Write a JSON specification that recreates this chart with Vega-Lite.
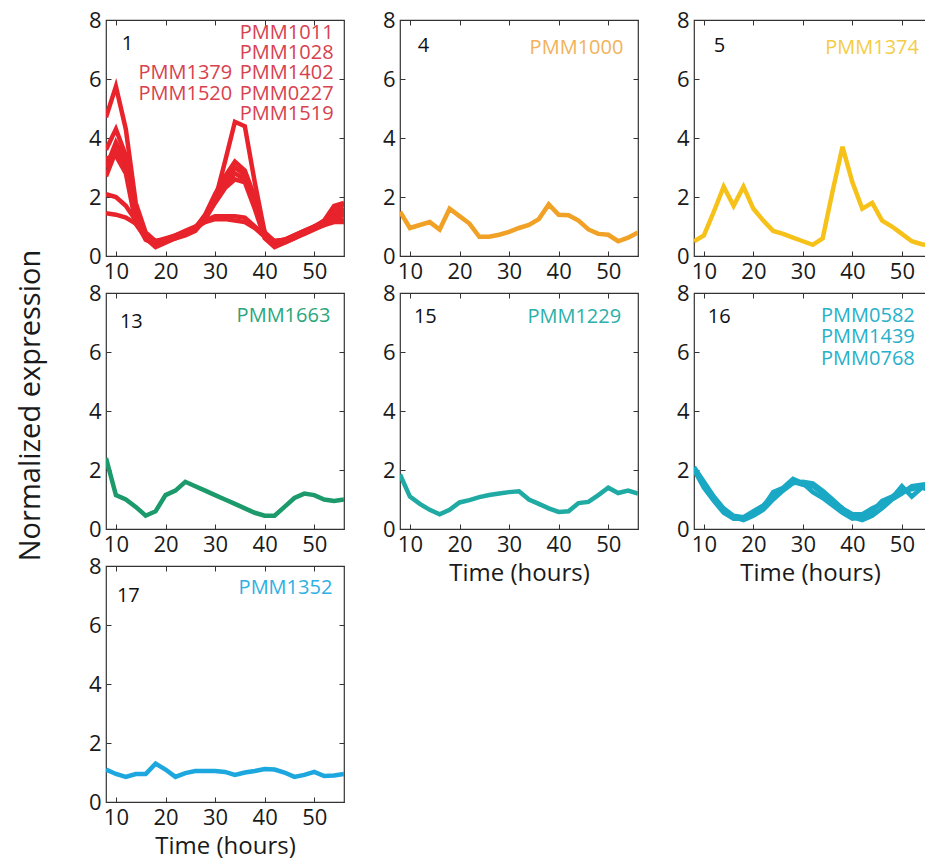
{
  "$schema": "https://vega.github.io/schema/vega-lite/v6.json",
  "background": "white",
  "padding": {"left": 15, "top": 8, "right": 0, "bottom": 0},
  "columns": 3,
  "spacing": {"row": 37, "column": 56},
  "bounds": "flush",
  "datasets": {
    "expr": [
      {"p":1,"g":"a","t":8,"v":4.7},{"p":1,"g":"a","t":10,"v":5.75},{"p":1,"g":"a","t":12,"v":4.3},{"p":1,"g":"a","t":14,"v":1.8},{"p":1,"g":"a","t":16,"v":0.8},{"p":1,"g":"a","t":18,"v":0.5},{"p":1,"g":"a","t":20,"v":0.55},{"p":1,"g":"a","t":22,"v":0.65},{"p":1,"g":"a","t":24,"v":0.75},{"p":1,"g":"a","t":26,"v":0.95},{"p":1,"g":"a","t":28,"v":1.3},{"p":1,"g":"a","t":30,"v":1.9},{"p":1,"g":"a","t":32,"v":3.2},{"p":1,"g":"a","t":34,"v":4.55},{"p":1,"g":"a","t":36,"v":4.4},{"p":1,"g":"a","t":38,"v":2.5},{"p":1,"g":"a","t":40,"v":0.8},{"p":1,"g":"a","t":42,"v":0.5},{"p":1,"g":"a","t":44,"v":0.55},{"p":1,"g":"a","t":46,"v":0.65},{"p":1,"g":"a","t":48,"v":0.8},{"p":1,"g":"a","t":50,"v":0.95},{"p":1,"g":"a","t":52,"v":1.2},{"p":1,"g":"a","t":54,"v":1.7},{"p":1,"g":"a","t":56,"v":1.8},
      {"p":1,"g":"b","t":8,"v":3.6},{"p":1,"g":"b","t":10,"v":4.3},{"p":1,"g":"b","t":12,"v":3.4},{"p":1,"g":"b","t":14,"v":1.5},{"p":1,"g":"b","t":16,"v":0.7},{"p":1,"g":"b","t":18,"v":0.45},{"p":1,"g":"b","t":20,"v":0.55},{"p":1,"g":"b","t":22,"v":0.7},{"p":1,"g":"b","t":24,"v":0.8},{"p":1,"g":"b","t":26,"v":0.95},{"p":1,"g":"b","t":28,"v":1.4},{"p":1,"g":"b","t":30,"v":2.1},{"p":1,"g":"b","t":32,"v":2.7},{"p":1,"g":"b","t":34,"v":3.2},{"p":1,"g":"b","t":36,"v":2.9},{"p":1,"g":"b","t":38,"v":2.0},{"p":1,"g":"b","t":40,"v":0.8},{"p":1,"g":"b","t":42,"v":0.45},{"p":1,"g":"b","t":44,"v":0.55},{"p":1,"g":"b","t":46,"v":0.7},{"p":1,"g":"b","t":48,"v":0.85},{"p":1,"g":"b","t":50,"v":1.0},{"p":1,"g":"b","t":52,"v":1.15},{"p":1,"g":"b","t":54,"v":1.6},{"p":1,"g":"b","t":56,"v":1.75},
      {"p":1,"g":"c","t":8,"v":3.0},{"p":1,"g":"c","t":10,"v":3.85},{"p":1,"g":"c","t":12,"v":3.2},{"p":1,"g":"c","t":14,"v":1.3},{"p":1,"g":"c","t":16,"v":0.6},{"p":1,"g":"c","t":18,"v":0.35},{"p":1,"g":"c","t":20,"v":0.5},{"p":1,"g":"c","t":22,"v":0.65},{"p":1,"g":"c","t":24,"v":0.8},{"p":1,"g":"c","t":26,"v":0.95},{"p":1,"g":"c","t":28,"v":1.35},{"p":1,"g":"c","t":30,"v":2.0},{"p":1,"g":"c","t":32,"v":2.5},{"p":1,"g":"c","t":34,"v":3.0},{"p":1,"g":"c","t":36,"v":2.75},{"p":1,"g":"c","t":38,"v":1.8},{"p":1,"g":"c","t":40,"v":0.7},{"p":1,"g":"c","t":42,"v":0.4},{"p":1,"g":"c","t":44,"v":0.5},{"p":1,"g":"c","t":46,"v":0.65},{"p":1,"g":"c","t":48,"v":0.8},{"p":1,"g":"c","t":50,"v":1.0},{"p":1,"g":"c","t":52,"v":1.2},{"p":1,"g":"c","t":54,"v":1.5},{"p":1,"g":"c","t":56,"v":1.6},
      {"p":1,"g":"d","t":8,"v":2.7},{"p":1,"g":"d","t":10,"v":3.55},{"p":1,"g":"d","t":12,"v":3.0},{"p":1,"g":"d","t":14,"v":1.2},{"p":1,"g":"d","t":16,"v":0.55},{"p":1,"g":"d","t":18,"v":0.4},{"p":1,"g":"d","t":20,"v":0.5},{"p":1,"g":"d","t":22,"v":0.6},{"p":1,"g":"d","t":24,"v":0.75},{"p":1,"g":"d","t":26,"v":0.9},{"p":1,"g":"d","t":28,"v":1.3},{"p":1,"g":"d","t":30,"v":1.9},{"p":1,"g":"d","t":32,"v":2.4},{"p":1,"g":"d","t":34,"v":2.8},{"p":1,"g":"d","t":36,"v":2.6},{"p":1,"g":"d","t":38,"v":1.7},{"p":1,"g":"d","t":40,"v":0.65},{"p":1,"g":"d","t":42,"v":0.35},{"p":1,"g":"d","t":44,"v":0.45},{"p":1,"g":"d","t":46,"v":0.6},{"p":1,"g":"d","t":48,"v":0.8},{"p":1,"g":"d","t":50,"v":0.95},{"p":1,"g":"d","t":52,"v":1.1},{"p":1,"g":"d","t":54,"v":1.4},{"p":1,"g":"d","t":56,"v":1.5},
      {"p":1,"g":"e","t":8,"v":3.3},{"p":1,"g":"e","t":10,"v":3.4},{"p":1,"g":"e","t":12,"v":2.8},{"p":1,"g":"e","t":14,"v":1.1},{"p":1,"g":"e","t":16,"v":0.6},{"p":1,"g":"e","t":18,"v":0.3},{"p":1,"g":"e","t":20,"v":0.45},{"p":1,"g":"e","t":22,"v":0.6},{"p":1,"g":"e","t":24,"v":0.7},{"p":1,"g":"e","t":26,"v":0.85},{"p":1,"g":"e","t":28,"v":1.25},{"p":1,"g":"e","t":30,"v":1.8},{"p":1,"g":"e","t":32,"v":2.3},{"p":1,"g":"e","t":34,"v":2.6},{"p":1,"g":"e","t":36,"v":2.5},{"p":1,"g":"e","t":38,"v":1.6},{"p":1,"g":"e","t":40,"v":0.6},{"p":1,"g":"e","t":42,"v":0.3},{"p":1,"g":"e","t":44,"v":0.45},{"p":1,"g":"e","t":46,"v":0.6},{"p":1,"g":"e","t":48,"v":0.75},{"p":1,"g":"e","t":50,"v":0.9},{"p":1,"g":"e","t":52,"v":1.05},{"p":1,"g":"e","t":54,"v":1.3},{"p":1,"g":"e","t":56,"v":1.4},
      {"p":1,"g":"f","t":8,"v":2.1},{"p":1,"g":"f","t":10,"v":2.0},{"p":1,"g":"f","t":12,"v":1.7},{"p":1,"g":"f","t":14,"v":1.2},{"p":1,"g":"f","t":16,"v":0.7},{"p":1,"g":"f","t":18,"v":0.5},{"p":1,"g":"f","t":20,"v":0.6},{"p":1,"g":"f","t":22,"v":0.7},{"p":1,"g":"f","t":24,"v":0.85},{"p":1,"g":"f","t":26,"v":1.0},{"p":1,"g":"f","t":28,"v":1.2},{"p":1,"g":"f","t":30,"v":1.35},{"p":1,"g":"f","t":32,"v":1.35},{"p":1,"g":"f","t":34,"v":1.35},{"p":1,"g":"f","t":36,"v":1.3},{"p":1,"g":"f","t":38,"v":1.0},{"p":1,"g":"f","t":40,"v":0.7},{"p":1,"g":"f","t":42,"v":0.5},{"p":1,"g":"f","t":44,"v":0.55},{"p":1,"g":"f","t":46,"v":0.7},{"p":1,"g":"f","t":48,"v":0.85},{"p":1,"g":"f","t":50,"v":1.0},{"p":1,"g":"f","t":52,"v":1.1},{"p":1,"g":"f","t":54,"v":1.2},{"p":1,"g":"f","t":56,"v":1.25},
      {"p":1,"g":"g","t":8,"v":1.45},{"p":1,"g":"g","t":10,"v":1.4},{"p":1,"g":"g","t":12,"v":1.3},{"p":1,"g":"g","t":14,"v":1.1},{"p":1,"g":"g","t":16,"v":0.65},{"p":1,"g":"g","t":18,"v":0.5},{"p":1,"g":"g","t":20,"v":0.55},{"p":1,"g":"g","t":22,"v":0.65},{"p":1,"g":"g","t":24,"v":0.8},{"p":1,"g":"g","t":26,"v":0.95},{"p":1,"g":"g","t":28,"v":1.15},{"p":1,"g":"g","t":30,"v":1.25},{"p":1,"g":"g","t":32,"v":1.25},{"p":1,"g":"g","t":34,"v":1.2},{"p":1,"g":"g","t":36,"v":1.15},{"p":1,"g":"g","t":38,"v":0.95},{"p":1,"g":"g","t":40,"v":0.65},{"p":1,"g":"g","t":42,"v":0.5},{"p":1,"g":"g","t":44,"v":0.55},{"p":1,"g":"g","t":46,"v":0.65},{"p":1,"g":"g","t":48,"v":0.8},{"p":1,"g":"g","t":50,"v":0.95},{"p":1,"g":"g","t":52,"v":1.05},{"p":1,"g":"g","t":54,"v":1.15},{"p":1,"g":"g","t":56,"v":1.15},
      {"p":4,"g":"a","t":8,"v":1.5},{"p":4,"g":"a","t":10,"v":0.95},{"p":4,"g":"a","t":12,"v":1.05},{"p":4,"g":"a","t":14,"v":1.15},{"p":4,"g":"a","t":16,"v":0.9},{"p":4,"g":"a","t":18,"v":1.6},{"p":4,"g":"a","t":20,"v":1.35},{"p":4,"g":"a","t":22,"v":1.1},{"p":4,"g":"a","t":24,"v":0.65},{"p":4,"g":"a","t":26,"v":0.65},{"p":4,"g":"a","t":28,"v":0.72},{"p":4,"g":"a","t":30,"v":0.82},{"p":4,"g":"a","t":32,"v":0.95},{"p":4,"g":"a","t":34,"v":1.05},{"p":4,"g":"a","t":36,"v":1.25},{"p":4,"g":"a","t":38,"v":1.75},{"p":4,"g":"a","t":40,"v":1.4},{"p":4,"g":"a","t":42,"v":1.38},{"p":4,"g":"a","t":44,"v":1.2},{"p":4,"g":"a","t":46,"v":0.9},{"p":4,"g":"a","t":48,"v":0.75},{"p":4,"g":"a","t":50,"v":0.72},{"p":4,"g":"a","t":52,"v":0.5},{"p":4,"g":"a","t":54,"v":0.62},{"p":4,"g":"a","t":56,"v":0.8},
      {"p":5,"g":"a","t":8,"v":0.5},{"p":5,"g":"a","t":10,"v":0.7},{"p":5,"g":"a","t":12,"v":1.5},{"p":5,"g":"a","t":14,"v":2.35},{"p":5,"g":"a","t":16,"v":1.7},{"p":5,"g":"a","t":18,"v":2.35},{"p":5,"g":"a","t":20,"v":1.6},{"p":5,"g":"a","t":22,"v":1.2},{"p":5,"g":"a","t":24,"v":0.85},{"p":5,"g":"a","t":26,"v":0.75},{"p":5,"g":"a","t":28,"v":0.62},{"p":5,"g":"a","t":30,"v":0.5},{"p":5,"g":"a","t":32,"v":0.38},{"p":5,"g":"a","t":34,"v":0.6},{"p":5,"g":"a","t":36,"v":2.2},{"p":5,"g":"a","t":38,"v":3.7},{"p":5,"g":"a","t":40,"v":2.5},{"p":5,"g":"a","t":42,"v":1.6},{"p":5,"g":"a","t":44,"v":1.8},{"p":5,"g":"a","t":46,"v":1.2},{"p":5,"g":"a","t":48,"v":1.0},{"p":5,"g":"a","t":50,"v":0.75},{"p":5,"g":"a","t":52,"v":0.5},{"p":5,"g":"a","t":54,"v":0.4},{"p":5,"g":"a","t":56,"v":0.35},
      {"p":13,"g":"a","t":8,"v":2.4},{"p":13,"g":"a","t":10,"v":1.15},{"p":13,"g":"a","t":12,"v":1.0},{"p":13,"g":"a","t":14,"v":0.75},{"p":13,"g":"a","t":16,"v":0.45},{"p":13,"g":"a","t":18,"v":0.6},{"p":13,"g":"a","t":20,"v":1.15},{"p":13,"g":"a","t":22,"v":1.3},{"p":13,"g":"a","t":24,"v":1.6},{"p":13,"g":"a","t":26,"v":1.45},{"p":13,"g":"a","t":28,"v":1.3},{"p":13,"g":"a","t":30,"v":1.15},{"p":13,"g":"a","t":32,"v":1.0},{"p":13,"g":"a","t":34,"v":0.85},{"p":13,"g":"a","t":36,"v":0.7},{"p":13,"g":"a","t":38,"v":0.55},{"p":13,"g":"a","t":40,"v":0.45},{"p":13,"g":"a","t":42,"v":0.45},{"p":13,"g":"a","t":44,"v":0.75},{"p":13,"g":"a","t":46,"v":1.05},{"p":13,"g":"a","t":48,"v":1.2},{"p":13,"g":"a","t":50,"v":1.15},{"p":13,"g":"a","t":52,"v":1.0},{"p":13,"g":"a","t":54,"v":0.95},{"p":13,"g":"a","t":56,"v":1.0},
      {"p":15,"g":"a","t":8,"v":1.85},{"p":15,"g":"a","t":10,"v":1.1},{"p":15,"g":"a","t":12,"v":0.85},{"p":15,"g":"a","t":14,"v":0.65},{"p":15,"g":"a","t":16,"v":0.5},{"p":15,"g":"a","t":18,"v":0.65},{"p":15,"g":"a","t":20,"v":0.9},{"p":15,"g":"a","t":22,"v":0.98},{"p":15,"g":"a","t":24,"v":1.08},{"p":15,"g":"a","t":26,"v":1.15},{"p":15,"g":"a","t":28,"v":1.2},{"p":15,"g":"a","t":30,"v":1.25},{"p":15,"g":"a","t":32,"v":1.28},{"p":15,"g":"a","t":34,"v":1.0},{"p":15,"g":"a","t":36,"v":0.85},{"p":15,"g":"a","t":38,"v":0.7},{"p":15,"g":"a","t":40,"v":0.58},{"p":15,"g":"a","t":42,"v":0.6},{"p":15,"g":"a","t":44,"v":0.88},{"p":15,"g":"a","t":46,"v":0.92},{"p":15,"g":"a","t":48,"v":1.15},{"p":15,"g":"a","t":50,"v":1.4},{"p":15,"g":"a","t":52,"v":1.22},{"p":15,"g":"a","t":54,"v":1.3},{"p":15,"g":"a","t":56,"v":1.2},
      {"p":16,"g":"a","t":8,"v":2.1},{"p":16,"g":"a","t":10,"v":1.6},{"p":16,"g":"a","t":12,"v":1.1},{"p":16,"g":"a","t":14,"v":0.7},{"p":16,"g":"a","t":16,"v":0.45},{"p":16,"g":"a","t":18,"v":0.4},{"p":16,"g":"a","t":20,"v":0.6},{"p":16,"g":"a","t":22,"v":0.8},{"p":16,"g":"a","t":24,"v":1.15},{"p":16,"g":"a","t":26,"v":1.35},{"p":16,"g":"a","t":28,"v":1.6},{"p":16,"g":"a","t":30,"v":1.5},{"p":16,"g":"a","t":32,"v":1.45},{"p":16,"g":"a","t":34,"v":1.2},{"p":16,"g":"a","t":36,"v":0.95},{"p":16,"g":"a","t":38,"v":0.7},{"p":16,"g":"a","t":40,"v":0.5},{"p":16,"g":"a","t":42,"v":0.5},{"p":16,"g":"a","t":44,"v":0.7},{"p":16,"g":"a","t":46,"v":0.85},{"p":16,"g":"a","t":48,"v":1.05},{"p":16,"g":"a","t":50,"v":1.45},{"p":16,"g":"a","t":52,"v":1.1},{"p":16,"g":"a","t":54,"v":1.4},{"p":16,"g":"a","t":56,"v":1.3},
      {"p":16,"g":"b","t":8,"v":2.0},{"p":16,"g":"b","t":10,"v":1.4},{"p":16,"g":"b","t":12,"v":0.95},{"p":16,"g":"b","t":14,"v":0.55},{"p":16,"g":"b","t":16,"v":0.35},{"p":16,"g":"b","t":18,"v":0.35},{"p":16,"g":"b","t":20,"v":0.5},{"p":16,"g":"b","t":22,"v":0.75},{"p":16,"g":"b","t":24,"v":1.25},{"p":16,"g":"b","t":26,"v":1.4},{"p":16,"g":"b","t":28,"v":1.7},{"p":16,"g":"b","t":30,"v":1.55},{"p":16,"g":"b","t":32,"v":1.25},{"p":16,"g":"b","t":34,"v":1.05},{"p":16,"g":"b","t":36,"v":0.8},{"p":16,"g":"b","t":38,"v":0.55},{"p":16,"g":"b","t":40,"v":0.35},{"p":16,"g":"b","t":42,"v":0.4},{"p":16,"g":"b","t":44,"v":0.6},{"p":16,"g":"b","t":46,"v":0.95},{"p":16,"g":"b","t":48,"v":1.1},{"p":16,"g":"b","t":50,"v":1.3},{"p":16,"g":"b","t":52,"v":1.35},{"p":16,"g":"b","t":54,"v":1.45},{"p":16,"g":"b","t":56,"v":1.4},
      {"p":16,"g":"c","t":8,"v":2.05},{"p":16,"g":"c","t":10,"v":1.5},{"p":16,"g":"c","t":12,"v":1.0},{"p":16,"g":"c","t":14,"v":0.6},{"p":16,"g":"c","t":16,"v":0.4},{"p":16,"g":"c","t":18,"v":0.3},{"p":16,"g":"c","t":20,"v":0.45},{"p":16,"g":"c","t":22,"v":0.65},{"p":16,"g":"c","t":24,"v":1.0},{"p":16,"g":"c","t":26,"v":1.3},{"p":16,"g":"c","t":28,"v":1.55},{"p":16,"g":"c","t":30,"v":1.6},{"p":16,"g":"c","t":32,"v":1.55},{"p":16,"g":"c","t":34,"v":1.3},{"p":16,"g":"c","t":36,"v":1.0},{"p":16,"g":"c","t":38,"v":0.7},{"p":16,"g":"c","t":40,"v":0.4},{"p":16,"g":"c","t":42,"v":0.3},{"p":16,"g":"c","t":44,"v":0.45},{"p":16,"g":"c","t":46,"v":0.7},{"p":16,"g":"c","t":48,"v":1.0},{"p":16,"g":"c","t":50,"v":1.2},{"p":16,"g":"c","t":52,"v":1.45},{"p":16,"g":"c","t":54,"v":1.5},{"p":16,"g":"c","t":56,"v":1.55},
      {"p":17,"g":"a","t":8,"v":1.1},{"p":17,"g":"a","t":10,"v":0.95},{"p":17,"g":"a","t":12,"v":0.85},{"p":17,"g":"a","t":14,"v":0.95},{"p":17,"g":"a","t":16,"v":0.95},{"p":17,"g":"a","t":18,"v":1.3},{"p":17,"g":"a","t":20,"v":1.1},{"p":17,"g":"a","t":22,"v":0.85},{"p":17,"g":"a","t":24,"v":0.98},{"p":17,"g":"a","t":26,"v":1.05},{"p":17,"g":"a","t":28,"v":1.05},{"p":17,"g":"a","t":30,"v":1.05},{"p":17,"g":"a","t":32,"v":1.02},{"p":17,"g":"a","t":34,"v":0.92},{"p":17,"g":"a","t":36,"v":1.0},{"p":17,"g":"a","t":38,"v":1.05},{"p":17,"g":"a","t":40,"v":1.12},{"p":17,"g":"a","t":42,"v":1.1},{"p":17,"g":"a","t":44,"v":1.0},{"p":17,"g":"a","t":46,"v":0.85},{"p":17,"g":"a","t":48,"v":0.92},{"p":17,"g":"a","t":50,"v":1.02},{"p":17,"g":"a","t":52,"v":0.88},{"p":17,"g":"a","t":54,"v":0.9},{"p":17,"g":"a","t":56,"v":0.95}
    ]
  },
  "concat": [
    {
      "width": 238, "height": 236,
      "data": {"name": "expr"},
      "transform": [{"filter": "datum.p == 1"}],
      "resolve": {"axis": {"x": "independent", "y": "independent"}},
      "layer": [
        {"mark": {"type": "line", "strokeWidth": 4.5, "color": "#e8232b", "clip": true},
         "encoding": {"x": {"field": "t", "type": "quantitative", "scale": {"domain": [8, 56], "nice": false, "zero": false}, "axis": {"values": [10, 20, 30, 40, 50], "title": null}},
                      "y": {"field": "v", "type": "quantitative", "scale": {"domain": [0, 8], "nice": false}, "axis": {"values": [0, 2, 4, 6, 8], "title": null}},
                      "detail": {"field": "g"}}},
        {"data": {"values": [{}]},
         "mark": {"type": "text", "align": "left", "baseline": "alphabetic", "fontSize": 20, "font": "Open Sans", "color": "#111"},
         "encoding": {"x": {"datum": 11.2, "type": "quantitative", "axis": {"orient": "top", "labels": false, "values": [10, 20, 30, 40, 50], "title": null}},
                      "y": {"datum": 7.0, "type": "quantitative", "axis": {"orient": "right", "labels": false, "values": [0, 2, 4, 6, 8], "title": null}},
                      "text": {"value": "1"}}},
        {"data": {"values": [{}]},
         "mark": {"type": "text", "align": "right", "baseline": "alphabetic", "fontSize": 20, "font": "Open Sans", "color": "#d8414e", "lineHeight": 20.3},
         "encoding": {"x": {"datum": 53.9, "type": "quantitative", "axis": null}, "y": {"datum": 7.36, "type": "quantitative", "axis": null},
                      "text": {"value": ["PMM1011", "PMM1028", "PMM1402", "PMM0227", "PMM1519"]}}},
        {"data": {"values": [{}]},
         "mark": {"type": "text", "align": "right", "baseline": "alphabetic", "fontSize": 20, "font": "Open Sans", "color": "#d8414e", "lineHeight": 20.3},
         "encoding": {"x": {"datum": 33.45, "type": "quantitative", "axis": null}, "y": {"datum": 5.99, "type": "quantitative", "axis": null},
                      "text": {"value": ["PMM1379", "PMM1520"]}}}
      ]
    },
    {
      "width": 238, "height": 236,
      "data": {"name": "expr"},
      "transform": [{"filter": "datum.p == 4"}],
      "resolve": {"axis": {"x": "independent", "y": "independent"}},
      "layer": [
        {"mark": {"type": "line", "strokeWidth": 4.5, "color": "#f0a126", "clip": true},
         "encoding": {"x": {"field": "t", "type": "quantitative", "scale": {"domain": [8, 56], "nice": false, "zero": false}, "axis": {"values": [10, 20, 30, 40, 50], "title": null}},
                      "y": {"field": "v", "type": "quantitative", "scale": {"domain": [0, 8], "nice": false}, "axis": {"values": [0, 2, 4, 6, 8], "title": null}},
                      "detail": {"field": "g"}}},
        {"data": {"values": [{}]},
         "mark": {"type": "text", "align": "left", "baseline": "alphabetic", "fontSize": 20, "font": "Open Sans", "color": "#111"},
         "encoding": {"x": {"datum": 11.6, "type": "quantitative", "axis": {"orient": "top", "labels": false, "values": [10, 20, 30, 40, 50], "title": null}},
                      "y": {"datum": 6.9, "type": "quantitative", "axis": {"orient": "right", "labels": false, "values": [0, 2, 4, 6, 8], "title": null}},
                      "text": {"value": "4"}}},
        {"data": {"values": [{}]},
         "mark": {"type": "text", "align": "right", "baseline": "alphabetic", "fontSize": 20, "font": "Open Sans", "color": "#f2b25c"},
         "encoding": {"x": {"datum": 53.05, "type": "quantitative", "axis": null}, "y": {"datum": 6.85, "type": "quantitative", "axis": null},
                      "text": {"value": "PMM1000"}}}
      ]
    },
    {
      "width": 232, "height": 236,
      "data": {"name": "expr"},
      "transform": [{"filter": "datum.p == 5"}],
      "resolve": {"axis": {"x": "independent", "y": "independent"}},
      "layer": [
        {"mark": {"type": "line", "strokeWidth": 4.5, "color": "#f6c21a", "clip": true},
         "encoding": {"x": {"field": "t", "type": "quantitative", "scale": {"domain": [8, 54.87], "nice": false, "zero": false}, "axis": {"values": [10, 20, 30, 40, 50], "title": null}},
                      "y": {"field": "v", "type": "quantitative", "scale": {"domain": [0, 8], "nice": false}, "axis": {"values": [0, 2, 4, 6, 8], "title": null}},
                      "detail": {"field": "g"}}},
        {"data": {"values": [{}]},
         "mark": {"type": "text", "align": "left", "baseline": "alphabetic", "fontSize": 20, "font": "Open Sans", "color": "#111"},
         "encoding": {"x": {"datum": 12.0, "type": "quantitative", "axis": {"orient": "top", "labels": false, "values": [10, 20, 30, 40, 50], "title": null}},
                      "y": {"datum": 6.9, "type": "quantitative", "axis": null},
                      "text": {"value": "5"}}},
        {"data": {"values": [{}]},
         "mark": {"type": "text", "align": "right", "baseline": "alphabetic", "fontSize": 20, "font": "Open Sans", "color": "#f4cc45"},
         "encoding": {"x": {"datum": 53.45, "type": "quantitative", "axis": null}, "y": {"datum": 6.85, "type": "quantitative", "axis": null},
                      "text": {"value": "PMM1374"}}}
      ]
    },
    {
      "width": 238, "height": 236,
      "data": {"name": "expr"},
      "transform": [{"filter": "datum.p == 13"}],
      "resolve": {"axis": {"x": "independent", "y": "independent"}},
      "layer": [
        {"mark": {"type": "line", "strokeWidth": 4.5, "color": "#1c9a6c", "clip": true},
         "encoding": {"x": {"field": "t", "type": "quantitative", "scale": {"domain": [8, 56], "nice": false, "zero": false}, "axis": {"values": [10, 20, 30, 40, 50], "title": null}},
                      "y": {"field": "v", "type": "quantitative", "scale": {"domain": [0, 8], "nice": false}, "axis": {"values": [0, 2, 4, 6, 8], "title": "Normalized expression", "titlePadding": 43, "titleFontSize": 29, "titleY": 112}},
                      "detail": {"field": "g"}}},
        {"data": {"values": [{}]},
         "mark": {"type": "text", "align": "left", "baseline": "alphabetic", "fontSize": 20, "font": "Open Sans", "color": "#111"},
         "encoding": {"x": {"datum": 10.8, "type": "quantitative", "axis": {"orient": "top", "labels": false, "values": [10, 20, 30, 40, 50], "title": null}},
                      "y": {"datum": 6.81, "type": "quantitative", "axis": {"orient": "right", "labels": false, "values": [0, 2, 4, 6, 8], "title": null}},
                      "text": {"value": "13"}}},
        {"data": {"values": [{}]},
         "mark": {"type": "text", "align": "right", "baseline": "alphabetic", "fontSize": 20, "font": "Open Sans", "color": "#2aa67a"},
         "encoding": {"x": {"datum": 53.25, "type": "quantitative", "axis": null}, "y": {"datum": 7.02, "type": "quantitative", "axis": null},
                      "text": {"value": "PMM1663"}}}
      ]
    },
    {
      "width": 238, "height": 236,
      "data": {"name": "expr"},
      "transform": [{"filter": "datum.p == 15"}],
      "resolve": {"axis": {"x": "independent", "y": "independent"}},
      "layer": [
        {"mark": {"type": "line", "strokeWidth": 4.5, "color": "#20aaa4", "clip": true},
         "encoding": {"x": {"field": "t", "type": "quantitative", "scale": {"domain": [8, 56], "nice": false, "zero": false}, "axis": {"values": [10, 20, 30, 40, 50], "title": "Time (hours)"}},
                      "y": {"field": "v", "type": "quantitative", "scale": {"domain": [0, 8], "nice": false}, "axis": {"values": [0, 2, 4, 6, 8], "title": null}},
                      "detail": {"field": "g"}}},
        {"data": {"values": [{}]},
         "mark": {"type": "text", "align": "left", "baseline": "alphabetic", "fontSize": 20, "font": "Open Sans", "color": "#111"},
         "encoding": {"x": {"datum": 10.8, "type": "quantitative", "axis": {"orient": "top", "labels": false, "values": [10, 20, 30, 40, 50], "title": null}},
                      "y": {"datum": 6.98, "type": "quantitative", "axis": {"orient": "right", "labels": false, "values": [0, 2, 4, 6, 8], "title": null}},
                      "text": {"value": "15"}}},
        {"data": {"values": [{}]},
         "mark": {"type": "text", "align": "right", "baseline": "alphabetic", "fontSize": 20, "font": "Open Sans", "color": "#2bb0aa"},
         "encoding": {"x": {"datum": 52.6, "type": "quantitative", "axis": null}, "y": {"datum": 6.98, "type": "quantitative", "axis": null},
                      "text": {"value": "PMM1229"}}}
      ]
    },
    {
      "width": 232, "height": 236,
      "data": {"name": "expr"},
      "transform": [{"filter": "datum.p == 16"}],
      "resolve": {"axis": {"x": "independent", "y": "independent"}},
      "layer": [
        {"mark": {"type": "line", "strokeWidth": 4.5, "color": "#1aa8c4", "clip": true},
         "encoding": {"x": {"field": "t", "type": "quantitative", "scale": {"domain": [8, 54.87], "nice": false, "zero": false}, "axis": {"values": [10, 20, 30, 40, 50], "title": "Time (hours)"}},
                      "y": {"field": "v", "type": "quantitative", "scale": {"domain": [0, 8], "nice": false}, "axis": {"values": [0, 2, 4, 6, 8], "title": null}},
                      "detail": {"field": "g"}}},
        {"data": {"values": [{}]},
         "mark": {"type": "text", "align": "left", "baseline": "alphabetic", "fontSize": 20, "font": "Open Sans", "color": "#111"},
         "encoding": {"x": {"datum": 10.8, "type": "quantitative", "axis": {"orient": "top", "labels": false, "values": [10, 20, 30, 40, 50], "title": null}},
                      "y": {"datum": 6.98, "type": "quantitative", "axis": null},
                      "text": {"value": "16"}}},
        {"data": {"values": [{}]},
         "mark": {"type": "text", "align": "right", "baseline": "alphabetic", "fontSize": 20, "font": "Open Sans", "color": "#27b0c9", "lineHeight": 21.5},
         "encoding": {"x": {"datum": 52.6, "type": "quantitative", "axis": null}, "y": {"datum": 7.02, "type": "quantitative", "axis": null},
                      "text": {"value": ["PMM0582", "PMM1439", "PMM0768"]}}}
      ]
    },
    {
      "width": 238, "height": 236,
      "data": {"name": "expr"},
      "transform": [{"filter": "datum.p == 17"}],
      "resolve": {"axis": {"x": "independent", "y": "independent"}},
      "layer": [
        {"mark": {"type": "line", "strokeWidth": 4.5, "color": "#1ca7df", "clip": true},
         "encoding": {"x": {"field": "t", "type": "quantitative", "scale": {"domain": [8, 56], "nice": false, "zero": false}, "axis": {"values": [10, 20, 30, 40, 50], "title": "Time (hours)"}},
                      "y": {"field": "v", "type": "quantitative", "scale": {"domain": [0, 8], "nice": false}, "axis": {"values": [0, 2, 4, 6, 8], "title": null}},
                      "detail": {"field": "g"}}},
        {"data": {"values": [{}]},
         "mark": {"type": "text", "align": "left", "baseline": "alphabetic", "fontSize": 20, "font": "Open Sans", "color": "#111"},
         "encoding": {"x": {"datum": 10.2, "type": "quantitative", "axis": {"orient": "top", "labels": false, "values": [10, 20, 30, 40, 50], "title": null}},
                      "y": {"datum": 6.78, "type": "quantitative", "axis": {"orient": "right", "labels": false, "values": [0, 2, 4, 6, 8], "title": null}},
                      "text": {"value": "17"}}},
        {"data": {"values": [{}]},
         "mark": {"type": "text", "align": "right", "baseline": "alphabetic", "fontSize": 20, "font": "Open Sans", "color": "#2eb0e2"},
         "encoding": {"x": {"datum": 53.65, "type": "quantitative", "axis": null}, "y": {"datum": 7.05, "type": "quantitative", "axis": null},
                      "text": {"value": "PMM1352"}}}
      ]
    }
  ],
  "config": {
    "view": {"stroke": "#333", "strokeWidth": 1.2},
    "axis": {
      "domain": false, "grid": false,
      "tickColor": "#333", "tickSize": -5, "tickWidth": 1,
      "labelFont": "Open Sans", "labelFontSize": 22, "labelColor": "#1a1a1a", "labelPadding": 10,
      "titleFont": "Open Sans", "titleFontSize": 24, "titleFontWeight": "normal", "titleColor": "#1a1a1a", "titlePadding": 6
    }
  }
}
